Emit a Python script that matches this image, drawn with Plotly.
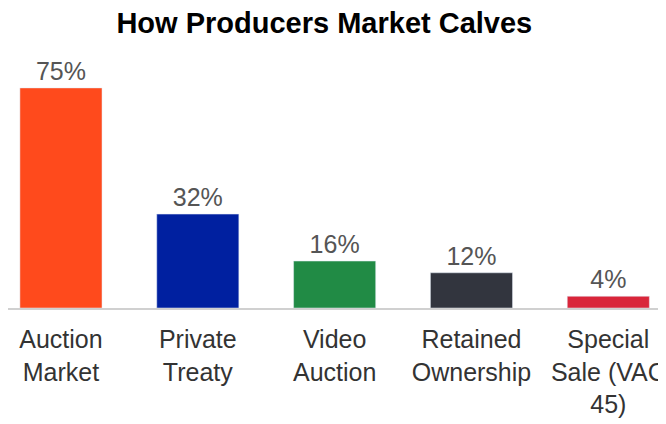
import plotly.graph_objects as go

categories = ["Auction<br>Market", "Private<br>Treaty", "Video<br>Auction",
              "Retained<br>Ownership", "Special<br>Sale (VAC<br>45)"]
values = [75, 32, 16, 12, 4]
labels = ["75%", "32%", "16%", "12%", "4%"]
colors = ["#FF4A1C", "#0020A0", "#218B45", "#32353E", "#D9263A"]

fig = go.Figure(go.Bar(
    x=list(range(len(categories))), y=values, text=labels, textposition="outside",
    marker_color=colors, width=0.6,
    textfont=dict(size=25, color="#555555"), cliponaxis=False,
))
fig.update_layout(
    width=666, height=424, plot_bgcolor="white", paper_bgcolor="white",
    font=dict(family="Liberation Sans, Arial, sans-serif"),
    title=dict(text="<b>How Producers Market Calves</b>", x=0.475, xanchor="center",
               y=0.99, yanchor="top", font=dict(size=29, color="black")),
    margin=dict(l=0, r=0, t=45, b=124), showlegend=False,
)
fig.update_xaxes(range=[-0.387, 4.48], tickvals=list(range(len(categories))),
                 ticktext=categories, tickfont=dict(size=25, color="#333333"),
                 automargin=False, ticklen=8, ticks="outside", tickcolor="white",
                 showline=True, linecolor="#D0D0D0", linewidth=2, showgrid=False)
fig.update_yaxes(range=[0, 86.9], visible=False)
fig.write_html("out.html")
